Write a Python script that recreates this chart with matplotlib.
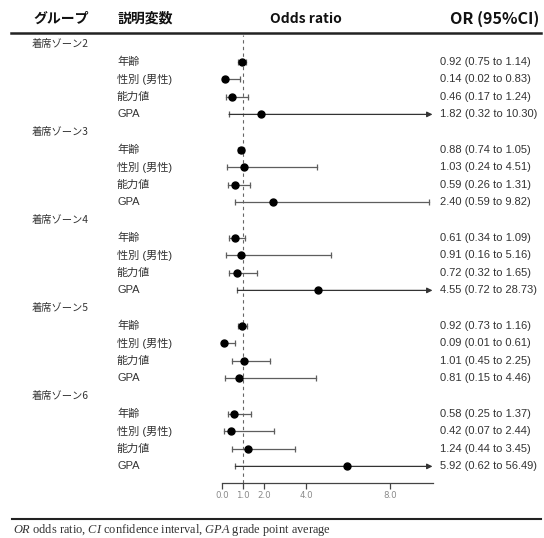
import matplotlib
matplotlib.use("Agg")
import matplotlib.pyplot as plt
import matplotlib.transforms as mtransforms

# ---------------- data ----------------
groups = ["着席ゾーン2", "着席ゾーン3", "着席ゾーン4", "着席ゾーン5", "着席ゾーン6"]
variables = ["年齢", "性別 (男性)", "能力値", "GPA"]
or_vals = [
    [0.92, 0.14, 0.46, 1.82],
    [0.88, 1.03, 0.59, 2.40],
    [0.61, 0.91, 0.72, 4.55],
    [0.92, 0.09, 1.01, 0.81],
    [0.58, 0.42, 1.24, 5.92],
]
ci_low = [
    [0.75, 0.02, 0.17, 0.32],
    [0.74, 0.24, 0.26, 0.59],
    [0.34, 0.16, 0.32, 0.72],
    [0.73, 0.01, 0.45, 0.15],
    [0.25, 0.07, 0.44, 0.62],
]
ci_high = [
    [1.14, 0.83, 1.24, 10.30],
    [1.05, 4.51, 1.31, 9.82],
    [1.09, 5.16, 1.65, 28.73],
    [1.16, 0.61, 2.25, 4.46],
    [1.37, 2.44, 3.45, 56.49],
]
x_ticks = [0, 1, 2, 4, 8]
x_ticklabels = ["0.0", "1.0", "2.0", "4.0", "8.0"]
x_max = 10
ref_line = 1.0
headers = ["グループ", "説明変数", "Odds ratio", "OR (95%CI)"]

# ---------------- layout helpers ----------------
W, H = 544, 538
fig = plt.figure(figsize=(W / 100, H / 100), dpi=100)

def fx(px):
    return px / W

def fy(py):
    return 1 - py / H

row0_px, row_step = 44.0, 17.6
ax_top_px, ax_bot_px = 35.0, 482.7
ax_left_px, ax_right_px = 222.3, 432.5

ax = fig.add_axes([fx(ax_left_px), fy(ax_bot_px),
                   fx(ax_right_px) - fx(ax_left_px), fy(ax_top_px) - fy(ax_bot_px)])
ax.set_xlim(0, x_max)
ax.set_ylim((ax_bot_px - row0_px) / row_step, (ax_top_px - row0_px) / row_step)
ax.patch.set_alpha(0)

trans_left = mtransforms.blended_transform_factory(fig.transFigure, ax.transData)

jp_fonts = ["Liberation Sans", "Noto Sans CJK JP", "DejaVu Sans"]
txt_col = "#333333"
bar_col = "#5e5e5e"

row = 0
for g, grp in enumerate(groups):
    fig.text(fx(32), row, grp, transform=trans_left, ha="left", va="center",
             fontsize=7.4, color=txt_col, family=["Noto Sans CJK JP", "DejaVu Sans"])
    row += 1
    for v, var in enumerate(variables):
        o = or_vals[g][v]
        lo = ci_low[g][v]
        hi = ci_high[g][v]
        fig.text(fx(117), row, var, transform=trans_left, ha="left", va="center",
                 fontsize=8, color=txt_col, family=jp_fonts)
        fig.text(fx(440.5), row, f"{o:.2f} ({lo:.2f} to {hi:.2f})", transform=trans_left,
                 ha="left", va="center", fontsize=8, color=txt_col, family="Liberation Sans")
        if hi > x_max:
            ax.annotate("", xy=(x_max, row), xytext=(lo, row),
                        arrowprops=dict(arrowstyle="-|>", color="#333333", lw=0.9,
                                        mutation_scale=8, shrinkA=0, shrinkB=0),
                        annotation_clip=False)
            ax.plot([lo], [row], marker="|", ms=5, mew=0.9, color=bar_col, clip_on=False)
        else:
            ax.plot([lo, hi], [row, row], color=bar_col, lw=0.9, clip_on=False)
            ax.plot([lo, hi], [row, row], ls="none", marker="|", ms=5, mew=0.9,
                    color=bar_col, clip_on=False)
        ax.plot([o], [row], marker="o", ms=5, color="black", clip_on=False, zorder=5)
        row += 1

ax.axvline(ref_line, ls=(0, (3, 3)), color="#666666", lw=0.8, zorder=0)

for s in ["top", "left", "right"]:
    ax.spines[s].set_visible(False)
ax.spines["bottom"].set_bounds(0, x_max)
ax.spines["bottom"].set_color("#444444")
ax.spines["bottom"].set_linewidth(0.9)
ax.set_yticks([])
ax.set_xticks(x_ticks)
ax.set_xticklabels(x_ticklabels)
ax.tick_params(axis="x", direction="out", length=4, width=0.9, color="#444444",
               labelsize=6.2, labelcolor="#8a8a8a", pad=2)

# headers
hdr_font = ["Noto Sans CJK JP", "DejaVu Sans"]
hy = fy(19)
fig.text(fx(33), hy, headers[0], ha="left", va="center", fontsize=10, weight="bold",
         family=hdr_font, color="#111111")
fig.text(fx(118), hy, headers[1], ha="left", va="center", fontsize=10, weight="bold",
         family=hdr_font, color="#111111")
fig.text(fx(306), hy, headers[2], ha="center", va="center", fontsize=10, weight="bold",
         family=hdr_font, color="#111111")
fig.text(fx(539), hy, headers[3], ha="right", va="center", fontsize=11.6, weight="bold",
         family=hdr_font, color="#111111")

# rules
fig.add_artist(plt.Line2D([fx(11), fx(541)], [fy(33.3), fy(33.3)], color="#222222", lw=1.8))
fig.add_artist(plt.Line2D([fx(12), fx(541)], [fy(518.5), fy(518.5)], color="#222222", lw=1.5))

# footnote
plt.rcParams["mathtext.fontset"] = "custom"
plt.rcParams["mathtext.it"] = "Liberation Serif:italic"
plt.rcParams["mathtext.rm"] = "Liberation Serif"
fig.text(fx(13), fy(530), r"$\mathit{OR}$ odds ratio, $\mathit{CI}$ confidence interval, "
         r"$\mathit{GPA}$ grade point average", ha="left", va="center", fontsize=8.9,
         family="Liberation Serif", color="#333333")

fig.savefig("out.png", dpi=100)
